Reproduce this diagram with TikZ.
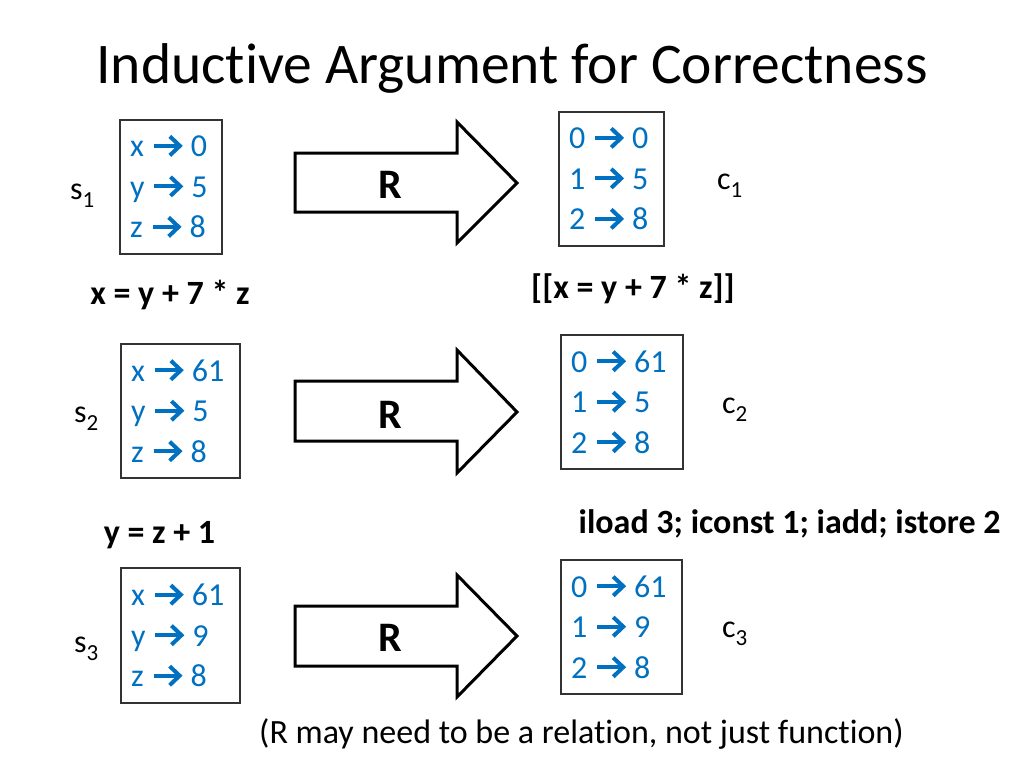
\documentclass[tikz,border=0pt]{standalone}
\usepackage{fontspec}
\setmainfont[Ligatures=NoCommon]{Carlito}
\definecolor{mapblue}{HTML}{0070C0}
\newcommand{\mto}{\hspace{10pt}\tikz[baseline=0pt,x=1pt,y=1pt]{\useasboundingbox (0,0) rectangle (28,21);
  \draw[mapblue, line width=4pt, line cap=butt] (0,11) -- (26,11);
  \draw[mapblue, line width=4pt, line join=miter] (16,1.5) -- (26,11) -- (16,20.5);}\hspace{9pt}}
\newcommand{\subs}[1]{\raisebox{-8pt}{\fontsize{23}{23}\selectfont #1}}
\tikzset{
  mapbox/.style={draw=black!80, line width=1.2pt, inner xsep=10pt, inner ysep=0pt, align=left,
    text=mapblue, font=\fontsize{32}{40.5}\selectfont, anchor=center},
  varlbl/.style={anchor=base west, inner sep=0pt, font=\fontsize{32}{32}\selectfont},
  code/.style={anchor=base, inner sep=0pt, font=\fontsize{34}{34}\selectfont\bfseries},
  bigarrow/.style={draw=black, line width=3pt, fill=white, line join=miter},
  rlbl/.style={anchor=base, inner sep=0pt, font=\fontsize{42}{42}\selectfont\bfseries},
}
\begin{document}
\begin{tikzpicture}[x=1pt,y=-1pt]
\useasboundingbox (0,0) rectangle (1024,768);
\fill[white] (0,0) rectangle (1024,768);

% title
\node[anchor=base, inner sep=0pt, font=\fontsize{57.5}{57.5}\selectfont] (title) at (512,83) {Inductive Argument for Correctness};

% row 1
\node[mapbox, minimum width=102pt, minimum height=134pt, text width=82pt] (s1box) at (171,187) {x\mto0\\y\mto5\\z\mto8};
\node[varlbl] (s1) at (70,199) {s\subs{1}};
\draw[bigarrow] (295,153) -- (457,153) -- (457,122) -- (517,183) -- (457,243) -- (457,212) -- (295,212) -- cycle;
\node[rlbl] (r1) at (390,198) {R};
\node[mapbox, minimum width=105pt, minimum height=134pt, text width=85pt] (c1box) at (611.5,179) {0\mto0\\1\mto5\\2\mto8};
\node[varlbl] (c1) at (717,189) {c\subs{1}};

\node[code] (stmt1) at (170,304) {x = y + 7 * z};
\node[code] (sem1) at (633,298) {[[x = y + 7 * z]]};

% row 2
\node[mapbox, minimum width=119pt, minimum height=134pt, text width=99pt] (s2box) at (180.5,411) {x\mto61\\y\mto5\\z\mto8};
\node[varlbl] (s2) at (74,422) {s\subs{2}};
\draw[bigarrow] (295,381) -- (457,381) -- (457,350) -- (517,412) -- (457,473) -- (457,441) -- (295,441) -- cycle;
\node[rlbl] (r2) at (390,428) {R};
\node[mapbox, minimum width=122pt, minimum height=134pt, text width=102pt] (c2box) at (622,402) {0\mto61\\1\mto5\\2\mto8};
\node[varlbl] (c2) at (722,413) {c\subs{2}};

\node[code] (stmt2) at (159.5,543) {y = z + 1};
\node[code] (sem2) at (789.5,533) {iload 3; iconst 1; iadd; istore 2};

% row 3
\node[mapbox, minimum width=119pt, minimum height=135pt, text width=99pt] (s3box) at (180.5,635.5) {x\mto61\\y\mto9\\z\mto8};
\node[varlbl] (s3) at (74,652) {s\subs{3}};
\draw[bigarrow] (295,606) -- (457,606) -- (457,575) -- (517,636) -- (457,697) -- (457,666) -- (295,666) -- cycle;
\node[rlbl] (r3) at (390,651) {R};
\node[mapbox, minimum width=121pt, minimum height=134pt, text width=101pt] (c3box) at (621.5,627) {0\mto61\\1\mto9\\2\mto8};
\node[varlbl] (c3) at (722,637) {c\subs{3}};

% footer
\node[anchor=base, inner sep=0pt, font=\fontsize{34}{34}\selectfont] (note) at (581.5,743) {(R may need to be a relation, not just function)};
\end{tikzpicture}
\end{document}
